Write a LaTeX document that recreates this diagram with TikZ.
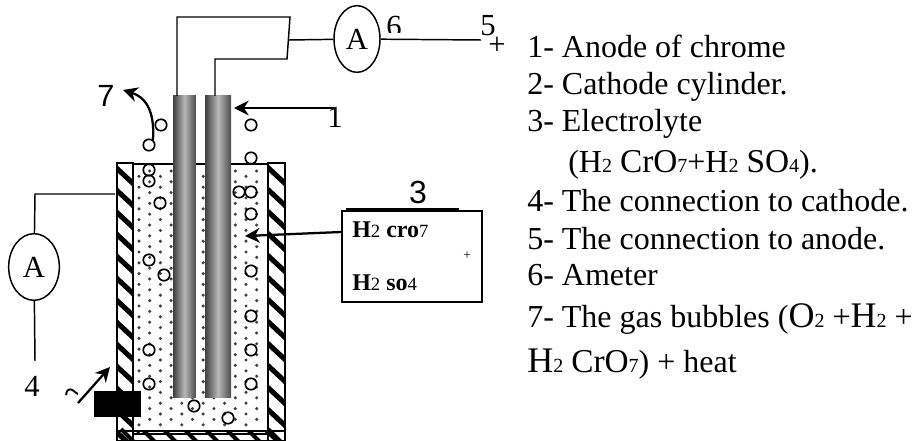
\documentclass[tikz,border=0pt]{standalone}
\usepackage{fontspec}
\setmainfont{Liberation Serif}
\newfontfamily\arialfont{Liberation Sans}
\usetikzlibrary{shapes.geometric, arrows.meta}
\tikzstyle{wire} = [line width=1.1pt, line join=miter]
\tikzstyle{arrow} = [line width=1.7pt, -{Stealth[length=11pt,width=11pt]}]
\tikzstyle{ameter} = [ellipse, draw=black, line width=1.1pt, inner sep=0pt, font=\fontsize{23}{25}\selectfont]
\tikzstyle{electrode} = [rectangle, inner sep=0pt, left color=black!75, right color=black!70, middle color=black!28]
\tikzstyle{bubble} = [circle, draw=black, line width=1.25pt, minimum size=8.6pt, inner sep=0pt]
\tikzstyle{legend} = [anchor=base west, inner sep=0pt, font=\fontsize{24}{26}\selectfont]
\tikzstyle{boxtext} = [anchor=base west, inner sep=0pt, font=\fontsize{18}{20}\selectfont]
\tikzstyle{num} = [inner sep=0pt, font=\fontsize{23}{25}\selectfont]
\tikzstyle{wall} = [draw=black, line width=1.1pt]
\newcommand{\sm}[1]{{\fontsize{15}{17}\selectfont #1}}
\newcommand{\tn}[1]{{\fontsize{14}{16}\selectfont #1}}
\newcommand{\bg}[1]{{\fontsize{25}{27}\selectfont #1}}
\newcommand{\bgg}[1]{{\fontsize{27}{29}\selectfont #1}}
\begin{document}
\begin{tikzpicture}[x=0.75pt, y=-0.75pt]
        \useasboundingbox (0,0) rectangle (919,441);

        % hatched walls of the cell
        \begin{scope}
            \clip (117,163) rectangle (133,441) (268,163) rectangle (285,441) (117,431) rectangle (285,441);
            \foreach \y in {140,162,...,460} {
                \draw [line width=3.8pt] (110,\y) -- (140,\y+28);
                \draw [line width=3.8pt] (262,\y) -- (292,\y+28);
            }
            \foreach \x in {100,121,...,300} {
                \draw [line width=3pt] (\x,429) -- (\x+14,443);
            }
        \end{scope}
        \draw [wall] (117,163) rectangle (133,441);
        \draw [wall] (268,163) rectangle (285,441);
        \draw [wall] (117,431) rectangle (285,441);
        \draw [wall] (133,164) -- (268,164);
        \draw [wall] (133,434) -- (268,434);

        % dots of the electrolyte
        \foreach \x [count=\c] in {139,149.7,...,263} {
            \foreach \y in {171,181.8,...,425} {
                \fill [black!75] (\x,{\y+mod(\c,2)*5.4}) circle (1.3pt);
            }
        }

        % electrodes
        \node (EL1) [electrode, minimum width=17pt, minimum height=226pt] at (184.5,246.5) {};
        \node (EL2) [electrode, minimum width=19.5pt, minimum height=226pt] at (218,246.5) {};

        % bubbles
        \foreach \n/\x/\y in {1/161/125, 2/149/145, 3/251/125, 4/251/158, 5/149/170, 6/149/181,
                7/160/203, 8/239/192, 9/251/192, 10/251/214, 11/149/260, 12/164/275, 13/251/271,
                14/251/316, 15/149/350, 16/251/350, 17/149/384, 18/251/384, 19/194/406, 20/228/418} {
            \node (B\n) [bubble] at (\x,\y) {};
        }

        % top circuit
        \coordinate (W1) at (177,17);
        \coordinate (W2) at (290,17);
        \coordinate (W3) at (287,59);
        \coordinate (W4) at (215,59);
        \coordinate (W5) at (289,40);
        \coordinate (P5) at (481,40);
        \coordinate (E1) at (177,96);
        \coordinate (E2) at (215,96);

        \node (A6) [ameter, minimum width=34.5pt, minimum height=50pt] at (357,39) {A};

        \draw [wire] (E1) -- (W1) -- (W2) -- (W3) -- (W4) -- (E2);
        \draw [wire] (W5) -- (A6);
        \draw [wire] (A6) -- (P5);

        % left circuit
        \coordinate (C1) at (115,194);
        \coordinate (C2) at (35,194);
        \coordinate (C3) at (35,361);

        \node (A4) [ameter, minimum width=38pt, minimum height=50pt] at (34,267) {A};

        \draw [wire] (C1) -- (C2) -- (A4);
        \draw [wire] (A4) -- (C3);

        % heater
        \node (HT) [rectangle, fill=black, inner sep=0pt, minimum width=35pt, minimum height=20pt] at (117.5,404) {};
        \begin{scope}
            \clip (60,388) rectangle (77,399);
            \node (TL) [inner sep=0pt, font=\fontsize{30}{32}\selectfont] at (75,397) {\char"007E};
        \end{scope}
        \coordinate (H1) at (78,403);
        \coordinate (H2) at (110,367);
        \draw [arrow] (H1) -- (H2);

        % labels
        \node (N1) [num] at (335,117) {1};
        \node (N3) [num, font=\arialfont\fontsize{24}{26}\selectfont] at (418,192) {3};
        \node (N4) [num] at (32,386) {4};
        \node (N5) [num] at (488,26) {5};
        \begin{scope}
            \clip (380,10) rectangle (405,33);
            \node (N6) [num] at (394,27) {6};
        \end{scope}
        \node (N7) [num, font=\arialfont\fontsize{23}{25}\selectfont] at (106,96) {7};
        \node (PL) [num] at (497,46) {+};

        \coordinate (A1) at (335,108);
        \coordinate (A2) at (234,108);
        \draw [arrow] (A1) -- (A2);

        \coordinate (G1) at (153,140);
        \coordinate (G2) at (123,90);
        \draw [arrow] (G1) .. controls (155,110) and (145,97) .. (G2);

        % electrolyte box
        \node (BOX) [rectangle, draw=black, line width=1.1pt, minimum width=105pt, minimum height=68pt, inner sep=0pt] at (412,256.5) {};
        \coordinate (T1) at (346,209);
        \coordinate (T2) at (459,209);
        \coordinate (A3) at (245,236);
        \draw [line width=1.8pt] (T1) -- (T2);
        \draw [arrow] (BOX.west |- 0,232) -- (A3);
        \node (H2C) [boxtext] at (352,238) {\textbf{H}\tn{2} \textbf{cro}\tn{7}};
        \node (H2S) [boxtext] at (352,290) {\textbf{H}\tn{2} \textbf{so}\tn{4}};
        \node (PB) [inner sep=0pt, font=\fontsize{10}{12}\selectfont] at (467,256) {+};

        % legend
        \node (L1) [legend] at (527,58) {1- Anode of chrome};
        \node (L2) [legend] at (527,95) {2- Cathode cylinder.};
        \node (L3) [legend] at (527,132) {3- Electrolyte};
        \node (L3B) [legend] at (568,173) {(H\sm{2} \bg{CrO}\sm{7}+H\sm{2} \bg{SO}\sm{4}).};
        \node (L4) [legend] at (527,212) {4- The connection to cathode.};
        \node (L5) [legend] at (527,249) {5- The connection to anode.};
        \node (L6) [legend] at (527,286) {6- Ameter};
        \node (L7) [legend] at (527,327) {7- The gas bubbles (\bgg{O}\sm{2} +\bgg{H}\sm{2} +};
        \node (L8) [legend] at (527,372) {\bgg{H}\sm{2} \bg{CrO}\sm{7}) + heat};

\end{tikzpicture}
\end{document}
